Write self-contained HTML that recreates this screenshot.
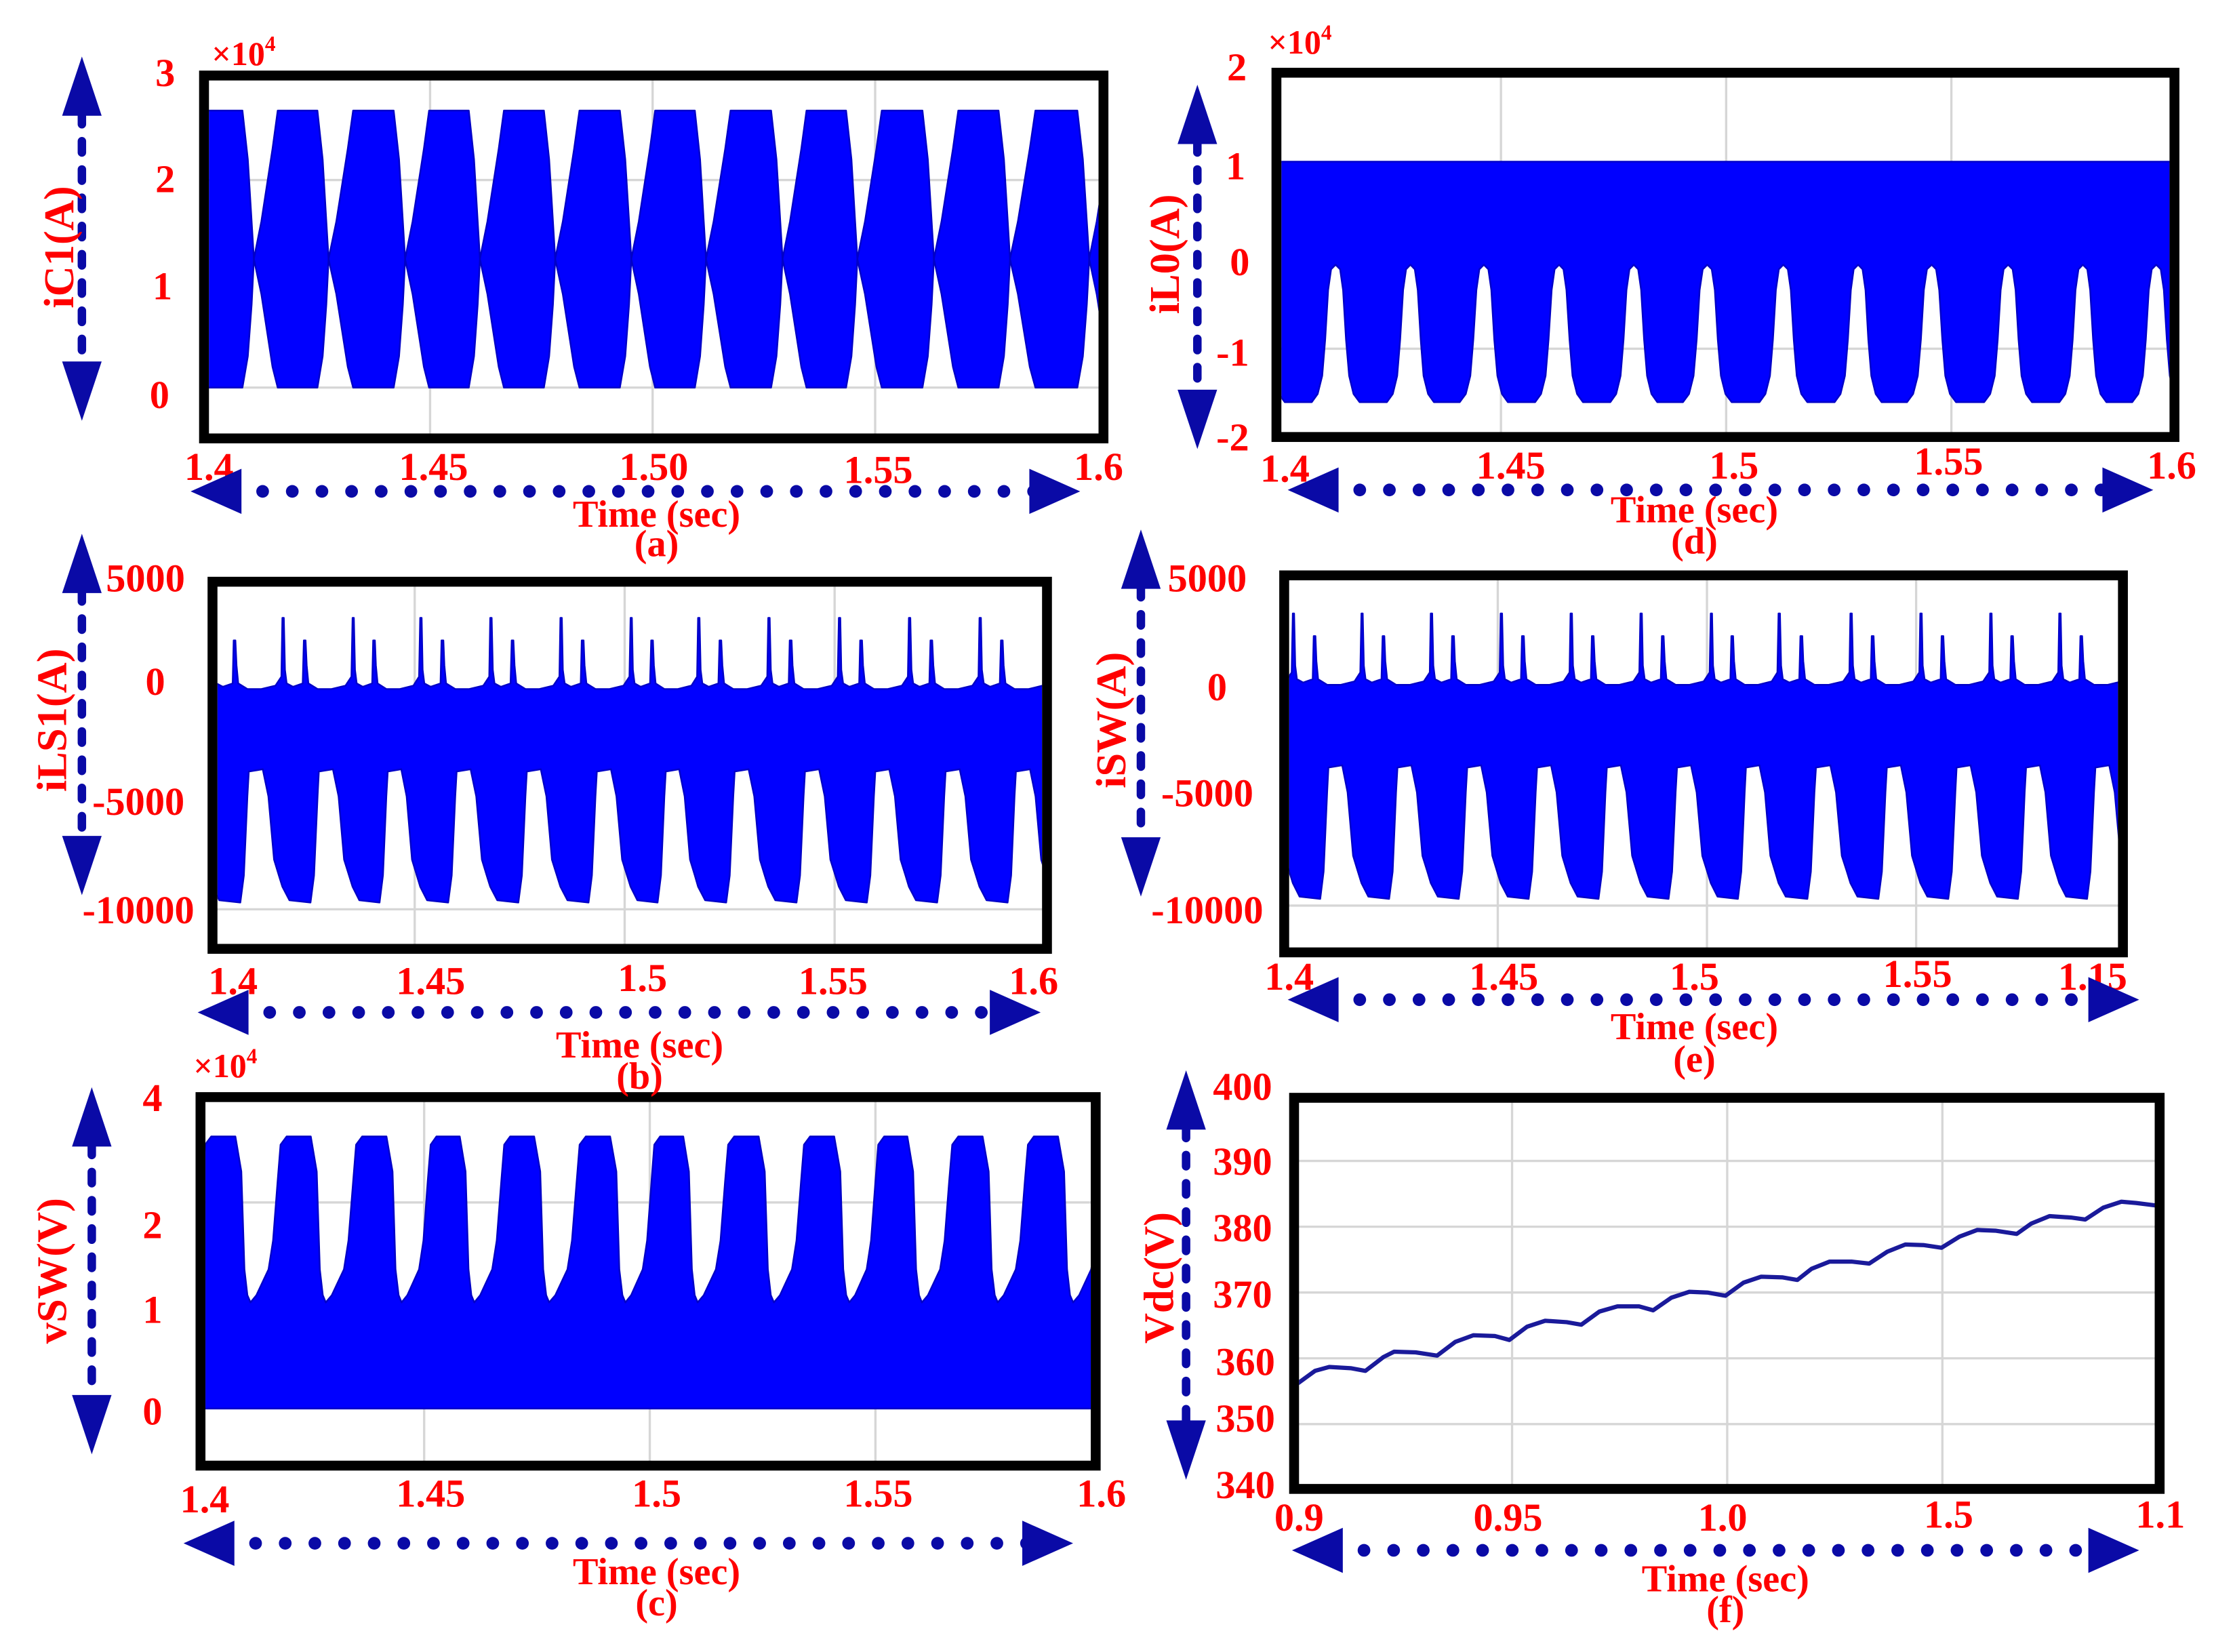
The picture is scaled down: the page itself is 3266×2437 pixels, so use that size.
<!DOCTYPE html>
<html><head><meta charset="utf-8"><style>
html,body{margin:0;padding:0;background:#fff;}
svg{display:block;}
text{font-family:"Liberation Serif",serif;font-weight:bold;fill:#ff0000;}
</style></head><body>
<svg id="fig" width="3266" height="2437" viewBox="0 0 1568 1170" preserveAspectRatio="none" xmlns="http://www.w3.org/2000/svg">
<defs>
<clipPath id="clipA"><rect x="148" y="57" width="630" height="250"/></clipPath>
<clipPath id="clipD"><rect x="907.5" y="55" width="629" height="251"/></clipPath>
<clipPath id="clipB"><rect x="154" y="415.5" width="584" height="253"/></clipPath>
<clipPath id="clipE"><rect x="913" y="411" width="587" height="260"/></clipPath>
<clipPath id="clipC"><rect x="145.5" y="780.5" width="627" height="254"/></clipPath>
<clipPath id="clipF"><rect x="920" y="781" width="606" height="270"/></clipPath>
</defs>
<g id="panels"></g>

<g font-size="28">
<text x="150" y="46" font-size="24" font-weight="normal">×10<tspan font-size="15" dy="-10">4</tspan></text>
<text x="117" y="61" text-anchor="middle">3</text>
<text x="117" y="136" text-anchor="middle">2</text>
<text x="115" y="212" text-anchor="middle">1</text>
<text x="113" y="289" text-anchor="middle">0</text>
<text x="148" y="340" text-anchor="middle">1.4</text>
<text x="307" y="340" text-anchor="middle">1.45</text>
<text x="463" y="340" text-anchor="middle">1.50</text>
<text x="622" y="342" text-anchor="middle">1.55</text>
<text x="778" y="340" text-anchor="middle">1.6</text>

<text x="898" y="38" font-size="24" font-weight="normal">×10<tspan font-size="15" dy="-10">4</tspan></text>
<text x="876" y="57" text-anchor="middle">2</text>
<text x="875" y="127" text-anchor="middle">1</text>
<text x="878" y="195" text-anchor="middle">0</text>
<text x="873" y="259" text-anchor="middle">-1</text>
<text x="873" y="319" text-anchor="middle">-2</text>
<text x="910" y="341" text-anchor="middle">1.4</text>
<text x="1070" y="339" text-anchor="middle">1.45</text>
<text x="1228" y="339" text-anchor="middle">1.5</text>
<text x="1380" y="336" text-anchor="middle">1.55</text>
<text x="1538" y="339" text-anchor="middle">1.6</text>

<text x="103" y="419" text-anchor="middle">5000</text>
<text x="110" y="492" text-anchor="middle">0</text>
<text x="98" y="577" text-anchor="middle">-5000</text>
<text x="98" y="654" text-anchor="middle">-10000</text>
<text x="165" y="704" text-anchor="middle">1.4</text>
<text x="305" y="704" text-anchor="middle">1.45</text>
<text x="455" y="702" text-anchor="middle">1.5</text>
<text x="590" y="704" text-anchor="middle">1.55</text>
<text x="732" y="704" text-anchor="middle">1.6</text>

<text x="855" y="419" text-anchor="middle">5000</text>
<text x="862" y="496" text-anchor="middle">0</text>
<text x="855" y="571" text-anchor="middle">-5000</text>
<text x="855" y="654" text-anchor="middle">-10000</text>
<text x="913" y="701" text-anchor="middle">1.4</text>
<text x="1065" y="701" text-anchor="middle">1.45</text>
<text x="1200" y="701" text-anchor="middle">1.5</text>
<text x="1358" y="699" text-anchor="middle">1.55</text>
<text x="1482" y="701" text-anchor="middle">1.15</text>

<text x="137" y="763" font-size="24" font-weight="normal">×10<tspan font-size="15" dy="-10">4</tspan></text>
<text x="108" y="787" text-anchor="middle">4</text>
<text x="108" y="877" text-anchor="middle">2</text>
<text x="108" y="937" text-anchor="middle">1</text>
<text x="108" y="1009" text-anchor="middle">0</text>
<text x="145" y="1071" text-anchor="middle">1.4</text>
<text x="305" y="1067" text-anchor="middle">1.45</text>
<text x="465" y="1067" text-anchor="middle">1.5</text>
<text x="622" y="1067" text-anchor="middle">1.55</text>
<text x="780" y="1067" text-anchor="middle">1.6</text>

<text x="880" y="779" text-anchor="middle">400</text>
<text x="880" y="832" text-anchor="middle">390</text>
<text x="880" y="879" text-anchor="middle">380</text>
<text x="880" y="926" text-anchor="middle">370</text>
<text x="882" y="974" text-anchor="middle">360</text>
<text x="882" y="1014" text-anchor="middle">350</text>
<text x="882" y="1061" text-anchor="middle">340</text>
<text x="920" y="1084" text-anchor="middle">0.9</text>
<text x="1068" y="1084" text-anchor="middle">0.95</text>
<text x="1220" y="1084" text-anchor="middle">1.0</text>
<text x="1380" y="1082" text-anchor="middle">1.5</text>
<text x="1530" y="1082" text-anchor="middle">1.1</text>
</g>

<g id="arrows"></g>

<g font-size="27">
<text transform="translate(45,175) rotate(-90)" text-anchor="middle" dominant-baseline="middle" font-size="30">iC1(A)</text>
<text transform="translate(40,510) rotate(-90)" text-anchor="middle" dominant-baseline="middle" font-size="30">iLS1(A)</text>
<text transform="translate(40,900) rotate(-90)" text-anchor="middle" dominant-baseline="middle" font-size="30">vSW(V)</text>
<text transform="translate(828,180) rotate(-90)" text-anchor="middle" dominant-baseline="middle" font-size="30">iL0(A)</text>
<text transform="translate(790,510) rotate(-90)" text-anchor="middle" dominant-baseline="middle" font-size="30">iSW(A)</text>
<text transform="translate(824,905) rotate(-90)" text-anchor="middle" dominant-baseline="middle" font-size="30">Vdc(V)</text>

<text x="465" y="373" text-anchor="middle">Time (sec)</text>
<text x="465" y="394" text-anchor="middle">(a)</text>
<text x="1200" y="370" text-anchor="middle">Time (sec)</text>
<text x="1200" y="392" text-anchor="middle">(d)</text>
<text x="453" y="749" text-anchor="middle">Time (sec)</text>
<text x="453" y="771" text-anchor="middle">(b)</text>
<text x="1200" y="736" text-anchor="middle">Time (sec)</text>
<text x="1200" y="759" text-anchor="middle">(e)</text>
<text x="465" y="1122" text-anchor="middle">Time (sec)</text>
<text x="465" y="1144" text-anchor="middle">(c)</text>
<text x="1222" y="1127" text-anchor="middle">Time (sec)</text>
<text x="1222" y="1149" text-anchor="middle">(f)</text>
</g>
</svg>
<script>
// ---------- data ----------
const iC1Necks = [1.3934,1.4104,1.4272,1.4444,1.4612,1.4781,1.4952,1.5120,1.5292,1.5460,1.5632,1.5803,1.5981,1.6150];
const iC1Frac  = [0,0.1,0.25,0.32,0.85,0.92,0.97,1];
const iC1Upper = [1.24,1.6,2.3,2.67,2.67,2.2,1.6,1.24];
const iC1Lower = [1.24,0.9,0.2,0.0,0.0,0.3,0.8,1.24];
const iL0Arches = [1.3800,1.3967,1.4133,1.4299,1.4462,1.4629,1.4795,1.4958,1.5127,1.5293,1.5456,1.5626,1.5792,1.5955,1.6122];
const iL0Frac  = [-0.5,-0.32,-0.24,-0.18,-0.14,-0.1,-0.06,0,0.06,0.1,0.14,0.18,0.24,0.32,0.5];
const iL0Lower = [-1.59,-1.59,-1.5,-1.3,-0.9,-0.35,-0.12,-0.07,-0.12,-0.35,-0.9,-1.3,-1.5,-1.59,-1.59];
const iL0Upper = [1.07];
const iLS1Spikes = [1.3850,1.4018,1.4185,1.4352,1.4513,1.4680,1.4847,1.5014,1.5175,1.5342,1.5510,1.5677,1.5845,1.6012];
const iSWSpikes = [1.3843,1.4010,1.4174,1.4340,1.4507,1.4674,1.4841,1.5009,1.5171,1.5343,1.5510,1.5677,1.5842,1.6008];
const spikeUpFrac = [0,0.02,0.035,0.06,0.15,0.29,0.305,0.33,0.345,0.37,0.5,0.7,0.9,0.985];
const spikeUpVal  = [2900,2900,600,0,-150,0,1900,1900,800,0,-250,-250,-100,300];
const spikeLoFrac = [0,0.1,0.4,0.45,0.5,0.52,0.72,0.8,0.88,0.95];
const spikeLoVal  = [-9000,-9600,-9700,-8500,-5000,-3900,-3800,-5000,-7800,-8500];
const vSWDips = [1.3780,1.3948,1.4115,1.4282,1.4450,1.4611,1.4777,1.4946,1.5106,1.5275,1.5442,1.5603,1.5771,1.5938,1.6105];
const vSWFrac  = [0,0.08,0.24,0.3,0.36,0.4,0.48,0.8,0.88,0.92,0.96];
const vSWUpper = [1.03,1.1,1.35,1.63,2.2,2.56,2.64,2.64,2.3,1.35,1.1];
const vSWLower = [0];
const vdcTime = [0.9000,0.9042,0.9075,0.9125,0.9159,0.9201,0.9226,0.9276,0.9326,0.9368,0.9410,0.9460,0.9494,0.9535,0.9577,0.9627,0.9661,0.9703,0.9745,0.9795,0.9828,0.9870,0.9912,0.9954,0.9996,1.0038,1.0079,1.0129,1.0163,1.0196,1.0238,1.0289,1.0330,1.0372,1.0414,1.0456,1.0498,1.0540,1.0581,1.0623,1.0673,1.0707,1.0749,1.0799,1.0832,1.0874,1.0916,1.0950,1.1000];
const vdcValue = [356.1,358.1,358.7,358.5,358.1,360.2,361.0,360.9,360.4,362.5,363.5,363.4,362.8,364.8,365.7,365.5,365.1,367.1,367.9,367.9,367.3,369.2,370.1,370.0,369.5,371.5,372.4,372.3,371.9,373.6,374.7,374.7,374.4,376.2,377.3,377.2,376.8,378.5,379.5,379.4,378.9,380.5,381.6,381.4,381.1,382.9,383.8,383.6,383.2];
const gridA_t=[1.45,1.5,1.55], gridA_v=[2,0];
const gridD_t=[1.45,1.5,1.55], gridD_v=[-1];
const gridB_t=[1.45,1.5,1.55], gridB_v=[-10000];
const gridE_t=[1.45,1.5,1.55], gridE_v=[-10000];
const gridC_t=[1.45,1.5,1.55], gridC_v=[2];
const gridF_t=[0.95,1.0,1.05], gridF_v=[390,380,370,360,350];

const ax = {
 a:{x:t=>147+(t-1.4)*3152, y:v=>274.5-73.5*v, box:[144.5,53.5,637,257], clip:'clipA'},
 d:{x:t=>903.5+(t-1.4)*3190, y:v=>183-64*v, box:[904,51.5,636,258], clip:'clipD'},
 b:{x:t=>145+(t-1.4)*2974, y:v=>484-0.016*v, box:[150.5,412,591,260], clip:'clipB'},
 e:{x:t=>912.6+(t-1.4)*2963, y:v=>481-0.01604*v, box:[909.5,407.5,594,267], clip:'clipE'},
 c:{x:t=>140.6+(t-1.4)*3196, y:v=>997.6-73*v, box:[142,777,634,261], clip:'clipC'},
 f:{x:t=>918.5+(t-0.9)*3047.5, y:v=>775.6+(400-v)*4.66, box:[916.5,777.5,613,277], clip:'clipF'}
};
const NS='http://www.w3.org/2000/svg';
const root=document.getElementById('panels');
function mk(tag,attrs,parent){const e=document.createElementNS(NS,tag);for(const k in attrs)e.setAttribute(k,attrs[k]);(parent||root).appendChild(e);return e;}

function envelope(events,fracU,valU,fracL,valL){
  const up=[],lo=[];
  for(let i=0;i<events.length-1;i++){
    const t0=events[i],dt=events[i+1]-events[i];
    for(let j=0;j<fracU.length;j++) up.push([t0+fracU[j]*dt,valU[j]]);
    for(let j=0;j<fracL.length;j++) lo.push([t0+fracL[j]*dt,valL[j]]);
  }
  return [up,lo];
}
function centred(events,frac,vals){
  const pts=[];
  for(let i=0;i<events.length;i++){
    const dt=(i<events.length-1?events[i+1]-events[i]:events[i]-events[i-1]);
    for(let j=0;j<frac.length;j++) pts.push([events[i]+frac[j]*dt,vals[j]]);
  }
  return pts;
}
function constLine(events,v){return [[events[0],v],[events[events.length-1],v]];}

function drawPanel(key,name,up,lo,gt,gv){
  const A=ax[key];
  const g=mk('g',{});
  
  
  const b=A.box;
  const bg=mk('rect',{x:b[0],y:b[1],width:b[2],height:b[3],fill:'#fff'},g);
  
  
  const x0=b[0],x1=b[0]+b[2],y0=b[1],y1=b[1]+b[3];
  gt.forEach(t=>{const l=mk('line',{x1:A.x(t),x2:A.x(t),y1:y0,y2:y1,stroke:'#d6d6d6','stroke-width':1.6},g);
    
    });
  gv.forEach(v=>{const l=mk('line',{x1:x0,x2:x1,y1:A.y(v),y2:A.y(v),stroke:'#d6d6d6','stroke-width':1.6},g);
    
    });
  if(lo){
    const pts=up.map(p=>A.x(p[0]).toFixed(1)+','+A.y(p[1]).toFixed(1))
      .concat(lo.slice().reverse().map(p=>A.x(p[0]).toFixed(1)+','+A.y(p[1]).toFixed(1)));
    const s=mk('polygon',{points:pts.join(' '),fill:'#0000ff',stroke:'#0000c8','stroke-width':1.2,'stroke-linejoin':'round','clip-path':'url(#'+A.clip+')'},g);
    
    
  } else {
    const pts=up.map(p=>A.x(p[0]).toFixed(1)+','+A.y(p[1]).toFixed(1));
    const s=mk('polyline',{points:pts.join(' '),fill:'none',stroke:'#1a1a9a','stroke-width':3,'stroke-linejoin':'round','clip-path':'url(#'+A.clip+')'},g);
    
    
  }
  const fr=mk('rect',{x:b[0],y:b[1],width:b[2],height:b[3],fill:'none',stroke:'#000','stroke-width':7},g);
  
  
}

let e;
e=envelope(iC1Necks,iC1Frac,iC1Upper,iC1Frac,iC1Lower);
drawPanel('a','panel-a-ic1',e[0],e[1],gridA_t,gridA_v);
drawPanel('d','panel-d-il0',constLine(iL0Arches,iL0Upper[0]),centred(iL0Arches,iL0Frac,iL0Lower),gridD_t,gridD_v);
e=envelope(iLS1Spikes,spikeUpFrac,spikeUpVal,spikeLoFrac,spikeLoVal);
drawPanel('b','panel-b-ils1',e[0],e[1],gridB_t,gridB_v);
e=envelope(iSWSpikes,spikeUpFrac,spikeUpVal,spikeLoFrac,spikeLoVal);
drawPanel('e','panel-e-isw',e[0],e[1],gridE_t,gridE_v);
e=envelope(vSWDips,vSWFrac,vSWUpper,[0,1],[vSWLower[0],vSWLower[0]]);
drawPanel('c','panel-c-vsw',e[0],e[1],gridC_t,gridC_v);
drawPanel('f','panel-f-vdc',vdcTime.map((t,i)=>[t,vdcValue[i]]),null,gridF_t,gridF_v);

const ar=document.getElementById('arrows');
const AC='#0a0aa6';
function hArrow(name,y,xa,xb){
  const g=mk('g',{},ar);
  
  
  mk('line',{x1:xa+30,x2:xb-30,y1:y,y2:y,stroke:AC,'stroke-width':9,'stroke-linecap':'round','stroke-dasharray':'0 21'},g);
  mk('polygon',{points:`${xa},${y} ${xa+36},${y-16} ${xa+36},${y+16}`,fill:AC},g);
  mk('polygon',{points:`${xb},${y} ${xb-36},${y-16} ${xb-36},${y+16}`,fill:AC},g);
}
function vArrow(name,x,ya,yb){
  const g=mk('g',{},ar);
  
  
  mk('line',{x1:x,x2:x,y1:ya+40,y2:yb-40,stroke:AC,'stroke-width':6,'stroke-linecap':'round','stroke-dasharray':'8 12'},g);
  mk('polygon',{points:`${x},${ya} ${x-14},${ya+42} ${x+14},${ya+42}`,fill:AC},g);
  mk('polygon',{points:`${x},${yb} ${x-14},${yb-42} ${x+14},${yb-42}`,fill:AC},g);
}
hArrow('panel-a-time-arrow',348,135,765);
hArrow('panel-b-time-arrow',717,140,737);
hArrow('panel-c-time-arrow',1093,130,760);
hArrow('panel-d-time-arrow',347,912,1525);
hArrow('panel-e-time-arrow',708,912,1515);
hArrow('panel-f-time-arrow',1098,915,1515);
vArrow('panel-a-y-arrow',58,40,298);
vArrow('panel-b-y-arrow',58,378,634);
vArrow('panel-c-y-arrow',65,770,1030);
vArrow('panel-d-y-arrow',848,60,318);
vArrow('panel-e-y-arrow',808,375,635);
vArrow('panel-f-y-arrow',840,758,1048);
</script>
</body></html>
